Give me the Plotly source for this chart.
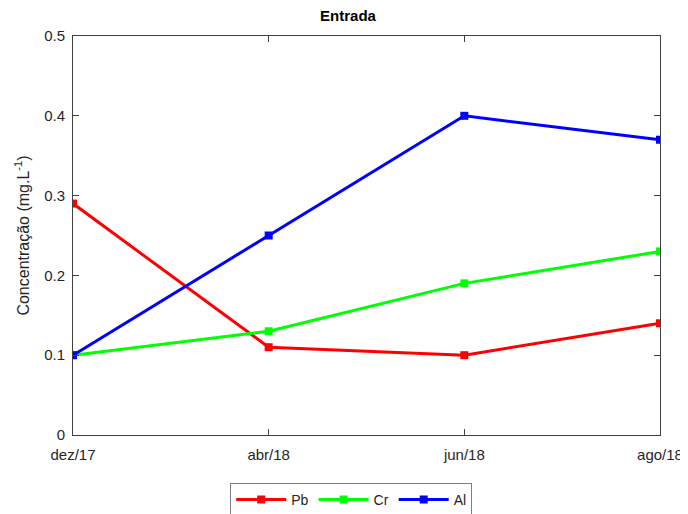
import plotly.graph_objects as go

months = ['dez/17', 'abr/18', 'jun/18', 'ago/18']
pb = [0.29, 0.11, 0.10, 0.14]
cr = [0.10, 0.13, 0.19, 0.23]
al = [0.10, 0.25, 0.40, 0.37]

series = [('Pb', pb, '#ff0000'), ('Cr', cr, '#00ff00'), ('Al', al, '#0000ff')]

fig = go.Figure()
for name, vals, color in series:
    fig.add_trace(go.Scatter(
        x=months, y=vals, name=name,
        mode='lines+markers',
        line={'color': color, 'width': 3},
        marker={'symbol': 'square', 'size': 8, 'color': color},
    ))

# page body has an 8px margin, so the figure is a bit smaller than the window
fig.update_layout(
    width=680, height=506,
    margin={'l': 65, 'r': 28, 't': 28, 'b': 79, 'autoexpand': False},
    paper_bgcolor='white', plot_bgcolor='white',
    font={'family': 'Liberation Sans', 'size': 15, 'color': '#262626'},
    title={'text': '<b>Entrada</b>', 'x': 0.5, 'xanchor': 'center',
           'y': 0.995, 'yanchor': 'top', 'font': {'size': 15, 'color': 'black'},
           'automargin': False},
    legend={'orientation': 'h', 'x': 0.474, 'xanchor': 'center',
            'y': -0.12, 'yanchor': 'top', 'bordercolor': '#7f7f7f', 'borderwidth': 1,
            'font': {'size': 14}, 'itemwidth': 50},
)

fig.update_xaxes(
    type='category', range=[0, 3], automargin=False,
    showgrid=False, showline=True, linecolor='#404040', linewidth=1,
    mirror='ticks', ticks='inside', ticklen=6, tickcolor='#404040',
    ticklabelstandoff=6,
)
fig.update_yaxes(
    range=[0, 0.5], dtick=0.1, tickformat='.1~f', automargin=False,
    showgrid=False, zeroline=False, showline=True, linecolor='#404040', linewidth=1,
    mirror='ticks', ticks='inside', ticklen=6, tickcolor='#404040',
    ticklabelstandoff=4,
    title={'text': 'Concentração (mg.L<sup>-1</sup>)', 'font': {'size': 16}, 'standoff': 10},
)

fig.write_html('out.html')
